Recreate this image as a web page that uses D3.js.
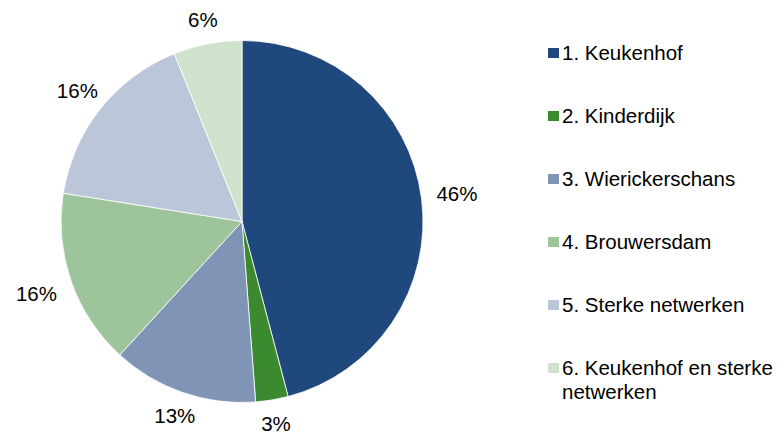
<!DOCTYPE html>
<html><head><meta charset="utf-8">
<script src="https://cdn.jsdelivr.net/npm/d3@7"></script>
<style>body{margin:0;background:#fff}svg{display:block}text{font-family:"Liberation Sans",Arial,sans-serif}</style>
</head><body>
<svg id="c" width="784" height="434"></svg>
<script>
const categories = ["1. Keukenhof","2. Kinderdijk","3. Wierickerschans","4. Brouwersdam","5. Sterke netwerken","6. Keukenhof en sterke netwerken"];
const values = [45.9, 2.9, 13.0, 15.7, 16.4, 6.1];
const labels = ["46%","3%","13%","16%","16%","6%"];
const colors = ["#1F497D","#3B8A30","#8095B5","#9DC49A","#BCC6D9","#CFE2CC"];

const svg = d3.select("#c");
const cx = 242, cy = 221.5, r = 181, gap = 15, fs = 20.5;
const pie = d3.pie().sort(null).value(d => d)(values);
const arc = d3.arc().innerRadius(0).outerRadius(r);
const g = svg.append("g").attr("transform", `translate(${cx},${cy})`);
g.selectAll("path").data(pie).join("path")
  .attr("d", arc).attr("fill", (d,i) => colors[i])
  .attr("stroke", "#fff").attr("stroke-width", 0.8);
g.selectAll("text").data(pie).join("text")
  .attr("text-anchor", "middle").attr("dy", "0.36em")
  .attr("font-size", fs).attr("fill", "#000")
  .text((d,i) => labels[i])
  .each(function(d) {
    const bb = this.getBBox();
    const a = (d.startAngle + d.endAngle) / 2;
    const s = Math.sin(a), c = -Math.cos(a);
    const hw = bb.width / 2, hh = 9;
    const ext = Math.min(Math.abs(s) > 1e-6 ? hw / Math.abs(s) : 1e9, Math.abs(c) > 1e-6 ? hh / Math.abs(c) : 1e9);
    const R = r + gap + ext;
    d3.select(this).attr("transform", `translate(${R * s},${R * c})`);
  });

const lg = svg.append("g");
const rowY = d3.scaleLinear().domain([0,5]).range([53, 368]);
categories.forEach((c,i) => {
  const y = rowY(i);
  lg.append("rect").attr("x", 548).attr("y", y-5).attr("width", 11).attr("height", 10).attr("fill", colors[i]);
  const words = i === 5 ? ["6. Keukenhof en sterke","netwerken"] : [c];
  const t = lg.append("text").attr("x", 562).attr("y", y + 7).attr("font-size", fs).attr("fill", "#000");
  words.forEach((w,j) => t.append("tspan").attr("x", 562).attr("dy", j ? 24 : 0).text(w));
});
</script>
</body></html>
